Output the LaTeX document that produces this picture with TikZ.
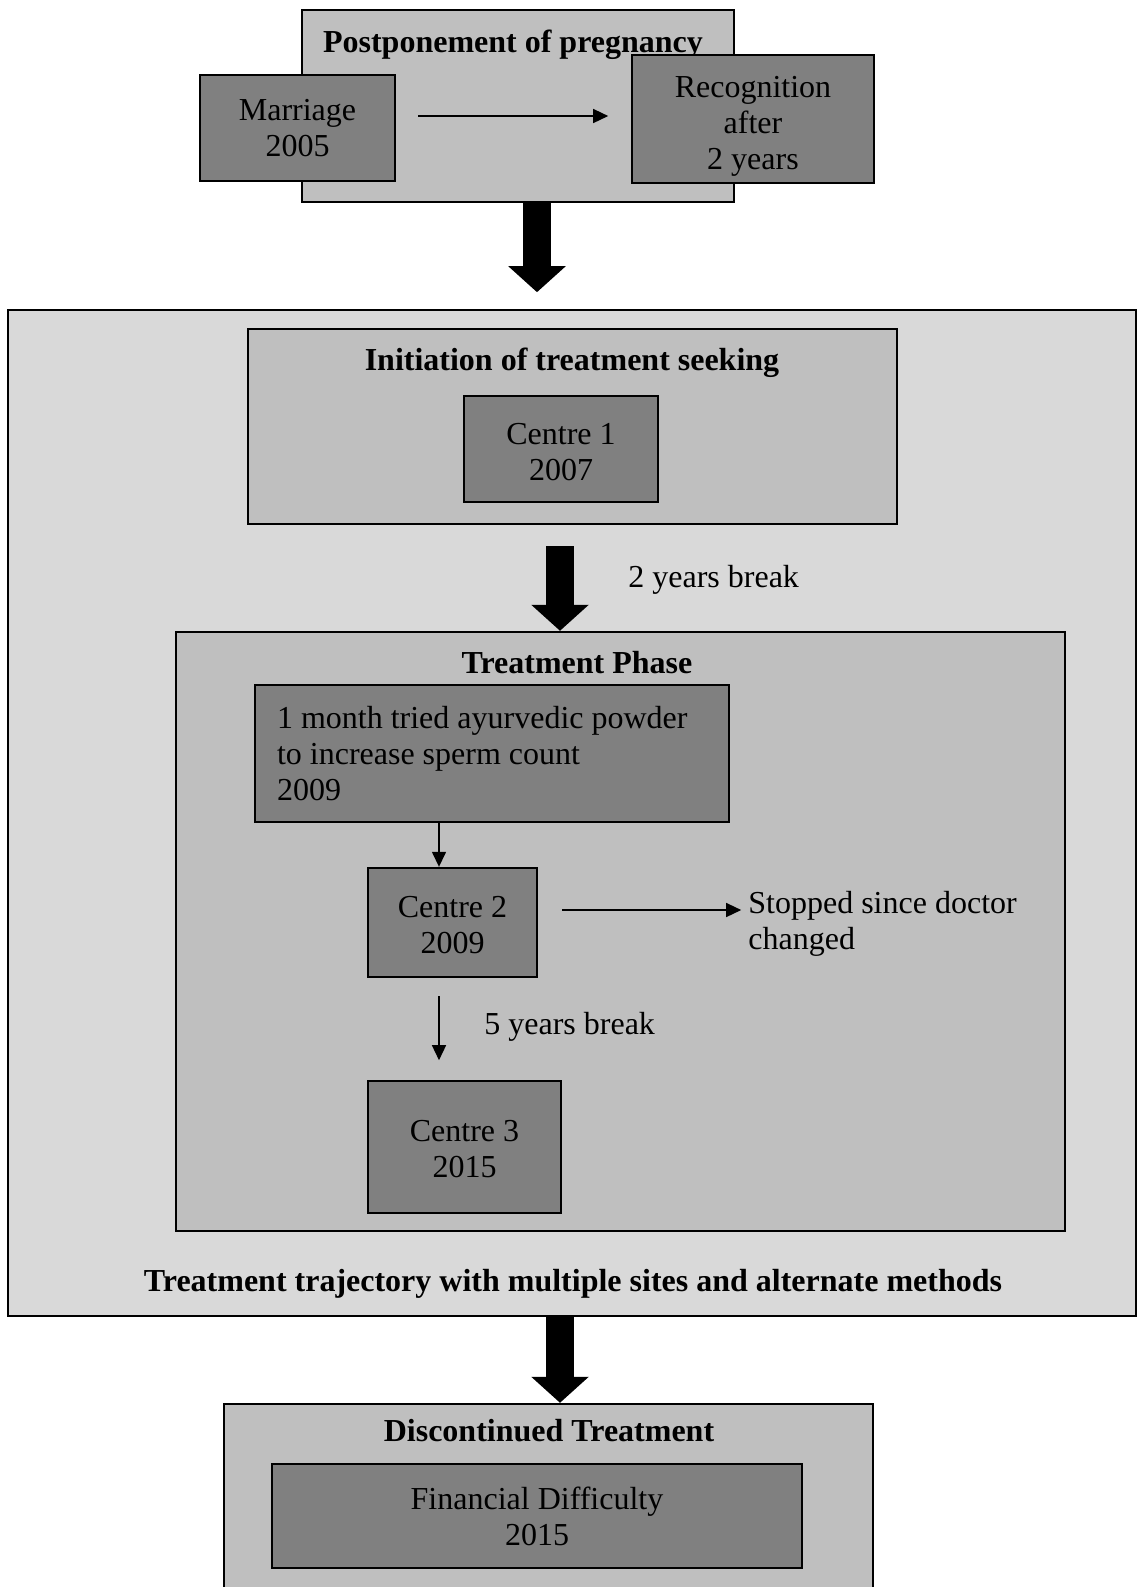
\documentclass[tikz,border=0pt]{standalone}
\usepackage{fontspec}
\setmainfont{Liberation Serif}
\usetikzlibrary{arrows.meta}
\definecolor{shadelight}{HTML}{D9D9D9}
\definecolor{shademid}{HTML}{BFBFBF}
\definecolor{shadedark}{HTML}{808080}
\tikzset{
  panel/.style={draw, line width=1.2pt, fill=shadelight, inner sep=0pt},
  stage/.style={draw, line width=1.2pt, fill=shademid, inner sep=0pt},
  event/.style={draw, line width=1.2pt, fill=shadedark, inner sep=0pt, align=center, font=\fontsize{16}{18}\selectfont},
  heading/.style={font=\fontsize{16}{18}\selectfont\bfseries, inner sep=0pt},
  note/.style={font=\fontsize{16}{18}\selectfont, align=flush left, inner sep=0pt},
  bigarrow/.style={line width=14pt, -{Triangle[width=28pt,length=13pt]}},
  smallarrow/.style={line width=0.7pt, -{Triangle[width=7pt,length=7.5pt]}},
}
\begin{document}
\begin{tikzpicture}[x=0.5pt,y=-0.5pt]
    \useasboundingbox (0,0) rectangle (1137,1587);
    \clip (0,0) rectangle (1137,1587);
    \coordinate (toplane) at (537,0);
    \coordinate (mainlane) at (560,0);
    \coordinate (lane) at (439,0);
    % before treatment
    \node[stage, minimum width=216pt, minimum height=96pt] (post) at (518,106) {};
    \node[heading] (posttitle) at (513,45) {Postponement of pregnancy};
    \node[event, minimum width=97.5pt, minimum height=53pt] (marriage) at (297.5,128) {Marriage\\2005};
    \node[event, minimum width=121pt, minimum height=64pt] (recog) at (753,119) {};
    \node[note, align=center] (recogtext) at (753,126) {Recognition\\after\\2 years};
    \draw[smallarrow] (marriage.east) ++(22,-12) -- ++(190,0);
    \draw[bigarrow] (post.south -| toplane) -- ++(0,89);
    % treatment trajectory
    \node[panel, minimum width=564pt, minimum height=503pt] (outer) at (572,813) {};
    \node[stage, minimum width=324.5pt, minimum height=97.5pt] (init) at (572.5,426.5) {};
    \node[heading] (inittitle) at (572,363) {Initiation of treatment seeking};
    \node[event, minimum width=97pt, minimum height=53pt] (cone) at (561,449) {};
    \node[note, align=center] (conetext) at (561,452) {Centre 1\\2007};
    \node[stage, minimum width=444.5pt, minimum height=299.5pt] (phase) at (620.5,931.5) {};
    \draw[bigarrow] (init.south -| mainlane) ++(0,21) -- (phase.north -| mainlane);
    \node[note, anchor=west] (twobreak) at (628,580) {2 years break};
    \node[heading] (phasetitle) at (577,663) {Treatment Phase};
    \node[event, align=flush left, text width=215pt, inner xsep=11pt, minimum height=68.5pt] (ayur) at (492,753.5) {1 month tried ayurvedic powder\\to increase sperm count\\2009};
    \node[event, minimum width=84.5pt, minimum height=54.5pt] (ctwo) at (452.5,922.5) {};
    \node[note, align=center] (ctwotext) at (452.5,925) {Centre 2\\2009};
    \node[note, anchor=west] (stopped) at (748,924) {Stopped since doctor\\changed};
    \node[event, minimum width=96.5pt, minimum height=66pt] (cthree) at (464.5,1147) {};
    \node[note, align=center] (cthreetext) at (464.5,1149.5) {Centre 3\\2015};
    \node[note, anchor=west] (fivebreak) at (484,1027) {5 years break};
    \draw[smallarrow] (ayur.south -| lane) -- (ctwo.north -| lane);
    \draw[smallarrow] (ctwo.east) ++(24,-12.5) -- ++(179,0);
    \draw[smallarrow] (ctwo.south -| lane) ++(0,18) -- ++(0,64);
    \node[heading] (outertitle) at (573,1284) {Treatment trajectory with multiple sites and alternate methods};
    % end of treatment
    \node[stage, minimum width=324.5pt, minimum height=98pt] (disc) at (548.5,1502) {};
    \draw[bigarrow] (outer.south -| mainlane) -- (disc.north -| mainlane);
    \node[heading] (disctitle) at (549,1431) {Discontinued Treatment};
    \node[event, minimum width=265pt, minimum height=52pt] (fin) at (537,1516) {Financial Difficulty\\2015};
\end{tikzpicture}
\end{document}
